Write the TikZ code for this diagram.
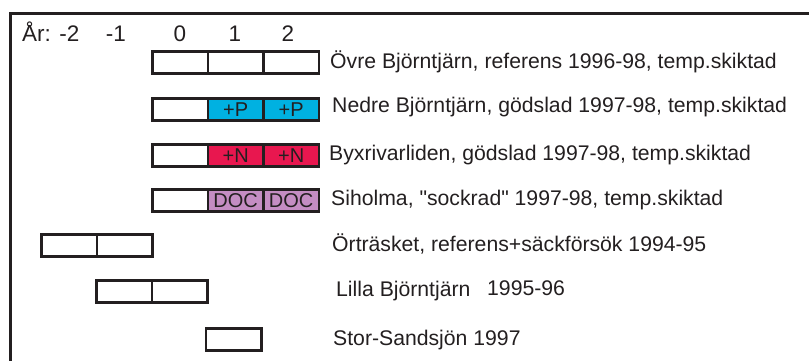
\documentclass[tikz,border=0pt]{standalone}
\usepackage{fontspec}
\setmainfont{Liberation Sans}
% plain family without TeX ligatures, so " stays a straight quote
\newfontfamily\plainsans{Liberation Sans}
\definecolor{ink}{HTML}{231F20}
\definecolor{pblue}{HTML}{00B1E1}
\definecolor{nred}{HTML}{E8174F}
\definecolor{docv}{HTML}{C48DC3}
\begin{document}
\begin{tikzpicture}[x=1pt,y=-1pt,
  cell/.style={draw=ink,line width=2.8pt,minimum width=55.5pt,minimum height=22pt,
    inner sep=0pt,anchor=north west,font=\plainsans\fontsize{20}{20}\selectfont,text=ink},
  lbl/.style={anchor=west,inner sep=0pt,font=\plainsans\fontsize{21.2}{22}\selectfont,text=ink},
  hdr/.style={anchor=base,inner sep=0pt,font=\plainsans\fontsize{22.5}{23}\selectfont,text=ink}]
\useasboundingbox (0,0) rectangle (809,361);
% frame
\draw[ink,line width=3pt] (10,361) -- (10,14) -- (809,14);
% year axis
\node[hdr,anchor=base west] (yr) at (22,42) {År: -2};
\node[hdr] (ym1) at (116,42) {-1};
\node[hdr] (y0) at (180,42) {0};
\node[hdr] (y1) at (235,42) {1};
\node[hdr] (y2) at (288,42) {2};
% row 1: Övre Björntjärn
\node[cell] (a0) at (151,50) {};
\node[cell] (a1) at (206.5,50) {};
\node[cell] (a2) at (262,50) {};
\node[lbl] (la) at (330,62) {Övre Björntjärn, referens 1996-98, temp.skiktad};
% row 2: Nedre Björntjärn
\node[cell] (b0) at (151,97) {};
\node[cell,fill=pblue] (b1) at (206.5,97) {+P};
\node[cell,fill=pblue] (b2) at (262,97) {+P};
\node[lbl] (lb) at (332,107) {Nedre Björntjärn, gödslad 1997-98, temp.skiktad};
% row 3: Byxrivarliden
\node[cell] (c0) at (151,143) {};
\node[cell,fill=nred] (c1) at (206.5,143) {+N};
\node[cell,fill=nred] (c2) at (262,143) {+N};
\node[lbl] (lc) at (329,155) {Byxrivarliden, gödslad 1997-98, temp.skiktad};
% row 4: Siholma
\node[cell] (d0) at (151,188) {};
\node[cell,fill=docv] (d1) at (206.5,188) {DOC};
\node[cell,fill=docv] (d2) at (262,188) {DOC};
\node[lbl] (ld) at (331,200) {Siholma, "sockrad" 1997-98, temp.skiktad};
% row 5: Örträsket
\node[cell] (e0) at (40,233) {};
\node[cell] (e1) at (95.5,233) {};
\node[lbl] (le) at (332,244) {Örträsket, referens+säckförsök 1994-95};
% row 6: Lilla Björntjärn
\node[cell] (f0) at (95,279) {};
\node[cell] (f1) at (150.5,279) {};
\node[lbl] (lf) at (336,291) {Lilla Björntjärn};
\node[lbl] (lf2) at (487,288) {1995-96};
% row 7: Stor-Sandsjön
\node[cell] (g0) at (204.5,327) {};
\node[lbl] (lg) at (333,340) {Stor-Sandsjön 1997};
\end{tikzpicture}
\end{document}
